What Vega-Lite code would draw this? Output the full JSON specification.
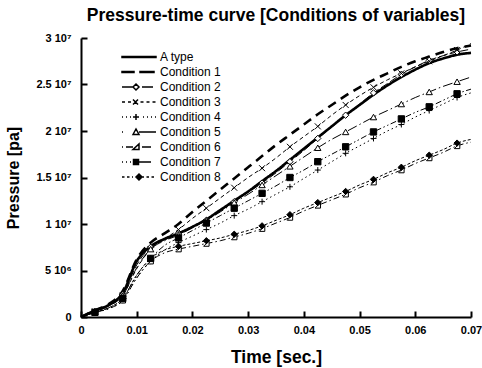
{
"$schema": "https://vega.github.io/schema/vega-lite/v6.json",
"width": 390, "height": 279,
"autosize": "none",
"padding": {"left": 81, "top": 38, "right": 11, "bottom": 51},
"background": "white",
"title": {"text": "Pressure-time curve [Conditions of variables]", "font": "Liberation Sans", "fontSize": 17.5, "fontWeight": "bold", "color": "black", "anchor": "middle", "offset": 8},
"data": {"values": [
{"s":"A type","t":0,"p":0},{"s":"A type","t":0.0025,"p":0.7e6},{"s":"A type","t":0.005,"p":1.3e6},{"s":"A type","t":0.0075,"p":2.6e6},{"s":"A type","t":0.01,"p":6.0e6},{"s":"A type","t":0.0125,"p":7.6e6},{"s":"A type","t":0.015,"p":8.4e6},{"s":"A type","t":0.0175,"p":9.0e6},{"s":"A type","t":0.02,"p":9.7e6},{"s":"A type","t":0.0225,"p":10.5e6},{"s":"A type","t":0.025,"p":11.5e6},{"s":"A type","t":0.0275,"p":12.5e6},{"s":"A type","t":0.03,"p":13.5e6},{"s":"A type","t":0.0325,"p":14.6e6},{"s":"A type","t":0.035,"p":15.7e6},{"s":"A type","t":0.0375,"p":16.9e6},{"s":"A type","t":0.04,"p":18.1e6},{"s":"A type","t":0.0425,"p":19.3e6},{"s":"A type","t":0.045,"p":20.5e6},{"s":"A type","t":0.0475,"p":21.7e6},{"s":"A type","t":0.05,"p":22.8e6},{"s":"A type","t":0.0525,"p":23.9e6},{"s":"A type","t":0.055,"p":24.9e6},{"s":"A type","t":0.0575,"p":25.8e6},{"s":"A type","t":0.06,"p":26.6e6},{"s":"A type","t":0.0625,"p":27.3e6},{"s":"A type","t":0.065,"p":27.8e6},{"s":"A type","t":0.0675,"p":28.2e6},{"s":"A type","t":0.07,"p":28.4e6},
{"s":"Condition 1","t":0,"p":0},{"s":"Condition 1","t":0.0025,"p":0.7e6},{"s":"Condition 1","t":0.005,"p":1.4e6},{"s":"Condition 1","t":0.0075,"p":2.8e6},{"s":"Condition 1","t":0.01,"p":6.2e6},{"s":"Condition 1","t":0.0125,"p":8.0e6},{"s":"Condition 1","t":0.015,"p":9.0e6},{"s":"Condition 1","t":0.0175,"p":10.0e6},{"s":"Condition 1","t":0.02,"p":11.3e6},{"s":"Condition 1","t":0.0225,"p":12.5e6},{"s":"Condition 1","t":0.025,"p":13.7e6},{"s":"Condition 1","t":0.0275,"p":14.9e6},{"s":"Condition 1","t":0.03,"p":16.1e6},{"s":"Condition 1","t":0.0325,"p":17.3e6},{"s":"Condition 1","t":0.035,"p":18.5e6},{"s":"Condition 1","t":0.0375,"p":19.6e6},{"s":"Condition 1","t":0.04,"p":20.7e6},{"s":"Condition 1","t":0.0425,"p":21.8e6},{"s":"Condition 1","t":0.045,"p":22.8e6},{"s":"Condition 1","t":0.0475,"p":23.8e6},{"s":"Condition 1","t":0.05,"p":24.7e6},{"s":"Condition 1","t":0.0525,"p":25.5e6},{"s":"Condition 1","t":0.055,"p":26.2e6},{"s":"Condition 1","t":0.0575,"p":26.9e6},{"s":"Condition 1","t":0.06,"p":27.5e6},{"s":"Condition 1","t":0.0625,"p":28.0e6},{"s":"Condition 1","t":0.065,"p":28.5e6},{"s":"Condition 1","t":0.0675,"p":28.9e6},{"s":"Condition 1","t":0.07,"p":29.2e6},
{"s":"Condition 2","t":0,"p":0},{"s":"Condition 2","t":0.0025,"p":0.6e6},{"s":"Condition 2","t":0.005,"p":1.2e6},{"s":"Condition 2","t":0.0075,"p":2.4e6},{"s":"Condition 2","t":0.01,"p":5.6e6},{"s":"Condition 2","t":0.0125,"p":7.5e6},{"s":"Condition 2","t":0.015,"p":8.3e6},{"s":"Condition 2","t":0.0175,"p":8.9e6},{"s":"Condition 2","t":0.02,"p":9.6e6},{"s":"Condition 2","t":0.0225,"p":10.4e6},{"s":"Condition 2","t":0.025,"p":11.4e6},{"s":"Condition 2","t":0.0275,"p":12.4e6},{"s":"Condition 2","t":0.03,"p":13.4e6},{"s":"Condition 2","t":0.0325,"p":14.4e6},{"s":"Condition 2","t":0.035,"p":15.5e6},{"s":"Condition 2","t":0.0375,"p":16.7e6},{"s":"Condition 2","t":0.04,"p":17.9e6},{"s":"Condition 2","t":0.0425,"p":19.2e6},{"s":"Condition 2","t":0.045,"p":20.4e6},{"s":"Condition 2","t":0.0475,"p":21.7e6},{"s":"Condition 2","t":0.05,"p":22.9e6},{"s":"Condition 2","t":0.0525,"p":24.1e6},{"s":"Condition 2","t":0.055,"p":25.1e6},{"s":"Condition 2","t":0.0575,"p":26.1e6},{"s":"Condition 2","t":0.06,"p":26.9e6},{"s":"Condition 2","t":0.0625,"p":27.6e6},{"s":"Condition 2","t":0.065,"p":28.1e6},{"s":"Condition 2","t":0.0675,"p":28.5e6},{"s":"Condition 2","t":0.07,"p":28.8e6},
{"s":"Condition 3","t":0,"p":0},{"s":"Condition 3","t":0.0025,"p":0.6e6},{"s":"Condition 3","t":0.005,"p":1.2e6},{"s":"Condition 3","t":0.0075,"p":2.3e6},{"s":"Condition 3","t":0.01,"p":5.2e6},{"s":"Condition 3","t":0.0125,"p":7.3e6},{"s":"Condition 3","t":0.015,"p":8.4e6},{"s":"Condition 3","t":0.0175,"p":9.4e6},{"s":"Condition 3","t":0.02,"p":10.6e6},{"s":"Condition 3","t":0.0225,"p":11.7e6},{"s":"Condition 3","t":0.025,"p":12.8e6},{"s":"Condition 3","t":0.0275,"p":13.9e6},{"s":"Condition 3","t":0.03,"p":15.0e6},{"s":"Condition 3","t":0.0325,"p":16.0e6},{"s":"Condition 3","t":0.035,"p":17.1e6},{"s":"Condition 3","t":0.0375,"p":18.3e6},{"s":"Condition 3","t":0.04,"p":19.4e6},{"s":"Condition 3","t":0.0425,"p":20.5e6},{"s":"Condition 3","t":0.045,"p":21.7e6},{"s":"Condition 3","t":0.0475,"p":22.8e6},{"s":"Condition 3","t":0.05,"p":23.8e6},{"s":"Condition 3","t":0.0525,"p":24.7e6},{"s":"Condition 3","t":0.055,"p":25.5e6},{"s":"Condition 3","t":0.0575,"p":26.2e6},{"s":"Condition 3","t":0.06,"p":26.9e6},{"s":"Condition 3","t":0.0625,"p":27.5e6},{"s":"Condition 3","t":0.065,"p":28.1e6},{"s":"Condition 3","t":0.0675,"p":28.7e6},{"s":"Condition 3","t":0.07,"p":29.4e6},
{"s":"Condition 4","t":0,"p":0},{"s":"Condition 4","t":0.0025,"p":0.5e6},{"s":"Condition 4","t":0.005,"p":0.9e6},{"s":"Condition 4","t":0.0075,"p":1.8e6},{"s":"Condition 4","t":0.01,"p":4.2e6},{"s":"Condition 4","t":0.0125,"p":6.0e6},{"s":"Condition 4","t":0.015,"p":7.2e6},{"s":"Condition 4","t":0.0175,"p":8.0e6},{"s":"Condition 4","t":0.02,"p":8.7e6},{"s":"Condition 4","t":0.0225,"p":9.4e6},{"s":"Condition 4","t":0.025,"p":10.1e6},{"s":"Condition 4","t":0.0275,"p":10.9e6},{"s":"Condition 4","t":0.03,"p":11.6e6},{"s":"Condition 4","t":0.0325,"p":12.4e6},{"s":"Condition 4","t":0.035,"p":13.2e6},{"s":"Condition 4","t":0.0375,"p":14.0e6},{"s":"Condition 4","t":0.04,"p":14.9e6},{"s":"Condition 4","t":0.0425,"p":15.8e6},{"s":"Condition 4","t":0.045,"p":16.7e6},{"s":"Condition 4","t":0.0475,"p":17.6e6},{"s":"Condition 4","t":0.05,"p":18.4e6},{"s":"Condition 4","t":0.0525,"p":19.2e6},{"s":"Condition 4","t":0.055,"p":20.0e6},{"s":"Condition 4","t":0.0575,"p":20.7e6},{"s":"Condition 4","t":0.06,"p":21.5e6},{"s":"Condition 4","t":0.0625,"p":22.2e6},{"s":"Condition 4","t":0.065,"p":22.9e6},{"s":"Condition 4","t":0.0675,"p":23.6e6},{"s":"Condition 4","t":0.07,"p":24.1e6},
{"s":"Condition 5","t":0,"p":0},{"s":"Condition 5","t":0.0025,"p":0.6e6},{"s":"Condition 5","t":0.005,"p":1.2e6},{"s":"Condition 5","t":0.0075,"p":2.3e6},{"s":"Condition 5","t":0.01,"p":5.3e6},{"s":"Condition 5","t":0.0125,"p":7.3e6},{"s":"Condition 5","t":0.015,"p":8.2e6},{"s":"Condition 5","t":0.0175,"p":8.8e6},{"s":"Condition 5","t":0.02,"p":9.6e6},{"s":"Condition 5","t":0.0225,"p":10.4e6},{"s":"Condition 5","t":0.025,"p":11.3e6},{"s":"Condition 5","t":0.0275,"p":12.3e6},{"s":"Condition 5","t":0.03,"p":13.2e6},{"s":"Condition 5","t":0.0325,"p":14.2e6},{"s":"Condition 5","t":0.035,"p":15.2e6},{"s":"Condition 5","t":0.0375,"p":16.2e6},{"s":"Condition 5","t":0.04,"p":17.2e6},{"s":"Condition 5","t":0.0425,"p":18.2e6},{"s":"Condition 5","t":0.045,"p":19.1e6},{"s":"Condition 5","t":0.0475,"p":19.9e6},{"s":"Condition 5","t":0.05,"p":20.7e6},{"s":"Condition 5","t":0.0525,"p":21.5e6},{"s":"Condition 5","t":0.055,"p":22.2e6},{"s":"Condition 5","t":0.0575,"p":22.9e6},{"s":"Condition 5","t":0.06,"p":23.6e6},{"s":"Condition 5","t":0.0625,"p":24.2e6},{"s":"Condition 5","t":0.065,"p":24.8e6},{"s":"Condition 5","t":0.0675,"p":25.3e6},{"s":"Condition 5","t":0.07,"p":25.8e6},
{"s":"Condition 6","t":0,"p":0},{"s":"Condition 6","t":0.0025,"p":0.5e6},{"s":"Condition 6","t":0.005,"p":0.9e6},{"s":"Condition 6","t":0.0075,"p":1.8e6},{"s":"Condition 6","t":0.01,"p":4.2e6},{"s":"Condition 6","t":0.0125,"p":6.0e6},{"s":"Condition 6","t":0.015,"p":6.9e6},{"s":"Condition 6","t":0.0175,"p":7.3e6},{"s":"Condition 6","t":0.02,"p":7.6e6},{"s":"Condition 6","t":0.0225,"p":7.9e6},{"s":"Condition 6","t":0.025,"p":8.2e6},{"s":"Condition 6","t":0.0275,"p":8.6e6},{"s":"Condition 6","t":0.03,"p":9.0e6},{"s":"Condition 6","t":0.0325,"p":9.5e6},{"s":"Condition 6","t":0.035,"p":10.1e6},{"s":"Condition 6","t":0.0375,"p":10.7e6},{"s":"Condition 6","t":0.04,"p":11.4e6},{"s":"Condition 6","t":0.0425,"p":12.0e6},{"s":"Condition 6","t":0.045,"p":12.6e6},{"s":"Condition 6","t":0.0475,"p":13.2e6},{"s":"Condition 6","t":0.05,"p":13.9e6},{"s":"Condition 6","t":0.0525,"p":14.5e6},{"s":"Condition 6","t":0.055,"p":15.2e6},{"s":"Condition 6","t":0.0575,"p":15.8e6},{"s":"Condition 6","t":0.06,"p":16.5e6},{"s":"Condition 6","t":0.0625,"p":17.1e6},{"s":"Condition 6","t":0.065,"p":17.7e6},{"s":"Condition 6","t":0.0675,"p":18.4e6},{"s":"Condition 6","t":0.07,"p":18.8e6},
{"s":"Condition 7","t":0,"p":0},{"s":"Condition 7","t":0.0025,"p":0.5e6},{"s":"Condition 7","t":0.005,"p":1.0e6},{"s":"Condition 7","t":0.0075,"p":2.0e6},{"s":"Condition 7","t":0.01,"p":4.5e6},{"s":"Condition 7","t":0.0125,"p":6.3e6},{"s":"Condition 7","t":0.015,"p":7.7e6},{"s":"Condition 7","t":0.0175,"p":8.5e6},{"s":"Condition 7","t":0.02,"p":9.3e6},{"s":"Condition 7","t":0.0225,"p":10.1e6},{"s":"Condition 7","t":0.025,"p":10.9e6},{"s":"Condition 7","t":0.0275,"p":11.7e6},{"s":"Condition 7","t":0.03,"p":12.5e6},{"s":"Condition 7","t":0.0325,"p":13.3e6},{"s":"Condition 7","t":0.035,"p":14.1e6},{"s":"Condition 7","t":0.0375,"p":15.0e6},{"s":"Condition 7","t":0.04,"p":15.8e6},{"s":"Condition 7","t":0.0425,"p":16.7e6},{"s":"Condition 7","t":0.045,"p":17.5e6},{"s":"Condition 7","t":0.0475,"p":18.3e6},{"s":"Condition 7","t":0.05,"p":19.1e6},{"s":"Condition 7","t":0.0525,"p":19.9e6},{"s":"Condition 7","t":0.055,"p":20.6e6},{"s":"Condition 7","t":0.0575,"p":21.3e6},{"s":"Condition 7","t":0.06,"p":22.0e6},{"s":"Condition 7","t":0.0625,"p":22.6e6},{"s":"Condition 7","t":0.065,"p":23.3e6},{"s":"Condition 7","t":0.0675,"p":24.0e6},{"s":"Condition 7","t":0.07,"p":24.5e6},
{"s":"Condition 8","t":0,"p":0},{"s":"Condition 8","t":0.0025,"p":0.5e6},{"s":"Condition 8","t":0.005,"p":1.0e6},{"s":"Condition 8","t":0.0075,"p":2.0e6},{"s":"Condition 8","t":0.01,"p":4.5e6},{"s":"Condition 8","t":0.0125,"p":6.3e6},{"s":"Condition 8","t":0.015,"p":7.2e6},{"s":"Condition 8","t":0.0175,"p":7.6e6},{"s":"Condition 8","t":0.02,"p":7.9e6},{"s":"Condition 8","t":0.0225,"p":8.2e6},{"s":"Condition 8","t":0.025,"p":8.5e6},{"s":"Condition 8","t":0.0275,"p":8.9e6},{"s":"Condition 8","t":0.03,"p":9.3e6},{"s":"Condition 8","t":0.0325,"p":9.8e6},{"s":"Condition 8","t":0.035,"p":10.4e6},{"s":"Condition 8","t":0.0375,"p":11.0e6},{"s":"Condition 8","t":0.04,"p":11.7e6},{"s":"Condition 8","t":0.0425,"p":12.3e6},{"s":"Condition 8","t":0.045,"p":12.9e6},{"s":"Condition 8","t":0.0475,"p":13.5e6},{"s":"Condition 8","t":0.05,"p":14.2e6},{"s":"Condition 8","t":0.0525,"p":14.8e6},{"s":"Condition 8","t":0.055,"p":15.5e6},{"s":"Condition 8","t":0.0575,"p":16.1e6},{"s":"Condition 8","t":0.06,"p":16.8e6},{"s":"Condition 8","t":0.0625,"p":17.4e6},{"s":"Condition 8","t":0.065,"p":18.0e6},{"s":"Condition 8","t":0.0675,"p":18.7e6},{"s":"Condition 8","t":0.07,"p":19.1e6}
]},
"encoding": {
  "x": {"field": "t", "type": "quantitative", "title": "Time [sec.]",
        "scale": {"domain": [0, 0.07], "nice": false, "zero": false},
        "axis": {"values": [0,0.01,0.02,0.03,0.04,0.05,0.06,0.07], "labelExpr": "datum.value == 0 ? '0' : format(datum.value, '.2f')", "labelPadding": 13, "titlePadding": 13, "titleFontSize": 17.5, "labelFlush": false}},
  "y": {"field": "p", "type": "quantitative", "title": "Pressure [pa]",
        "scale": {"domain": [0, 30000000], "nice": false},
        "axis": {"values": [0,5000000,10000000,15000000,20000000,25000000,30000000], "labelExpr": "datum.value == 0 ? '0' : datum.value < 1e7 ? '5 10⁶' : format(datum.value/1e7, '') + ' 10⁷'", "labelPadding": 16, "titlePadding": 14, "titleFontSize": 16}}
},
"layer": [
  {"transform": [{"filter": {"field": "s", "oneOf": ["A type", "Condition 1"]}}],
   "mark": {"type": "line", "color": "black", "strokeWidth": 2.6, "interpolate": "monotone"},
   "encoding": {"strokeDash": {"field": "s", "type": "nominal", "legend": null,
      "scale": {"range": [[1,0],[9,6],[8,3],[4,3],[1.5,3],[10,3,1.5,3],[1.5,3,6,3],[1.5,2.5,1.5,2.5,6,2.5],[3,2]]}}}},
  {"transform": [{"filter": {"not": {"field": "s", "oneOf": ["A type", "Condition 1"]}}}],
   "mark": {"type": "line", "color": "black", "strokeWidth": 1, "interpolate": "monotone"},
   "encoding": {"strokeDash": {"field": "s", "type": "nominal", "legend": null}}},
  {"transform": [{"filter": "round(datum.t*400) % 2 == 1"}],
   "layer": [
     {"transform": [{"filter": {"field": "s", "equal": "Condition 2"}}], "mark": {"type": "point", "shape": "diamond", "filled": true, "fill": "white", "stroke": "black", "strokeWidth": 1, "size": 40, "opacity": 1}},
     {"transform": [{"filter": {"field": "s", "equal": "Condition 3"}}], "mark": {"type": "point", "shape": "M-1,-1L1,1M-1,1L1,-1", "filled": false, "stroke": "black", "strokeWidth": 1, "size": 36, "opacity": 1}},
     {"transform": [{"filter": {"field": "s", "equal": "Condition 4"}}], "mark": {"type": "point", "shape": "M-1,0H1M0,-1V1", "filled": false, "stroke": "black", "strokeWidth": 1, "size": 36, "opacity": 1}},
     {"transform": [{"filter": {"field": "s", "equal": "Condition 5"}}], "mark": {"type": "point", "shape": "triangle-up", "filled": true, "fill": "white", "stroke": "black", "strokeWidth": 1, "size": 40, "opacity": 1}},
     {"transform": [{"filter": {"field": "s", "equal": "Condition 6"}}], "mark": {"type": "point", "shape": "M-1,1H1V-1Z", "filled": true, "fill": "white", "stroke": "black", "strokeWidth": 1, "size": 30, "opacity": 1}},
     {"transform": [{"filter": {"field": "s", "equal": "Condition 7"}}], "mark": {"type": "point", "shape": "square", "filled": true, "fill": "black", "stroke": "black", "strokeWidth": 1, "size": 40, "opacity": 1}},
     {"transform": [{"filter": {"field": "s", "equal": "Condition 8"}}], "mark": {"type": "point", "shape": "diamond", "filled": true, "fill": "black", "stroke": "black", "strokeWidth": 1, "size": 40, "opacity": 1}}
   ]},
  {"transform": [{"filter": {"field": "t", "equal": 0}}],
   "mark": {"type": "point", "filled": false, "color": "black", "strokeWidth": 1, "opacity": 0},
   "encoding": {
     "shape": {"field": "s", "type": "nominal", "title": null,
       "scale": {"domain": ["A type","Condition 1","Condition 2","Condition 3","Condition 4","Condition 5","Condition 6","Condition 7","Condition 8"],
         "range": [
           "M-5.6,-0.12H1.2V0.12H-5.6Z",
           "M-5.6,-0.12H-3.2V0.12H-5.6ZM-2,-0.12H0.8V0.12H-2Z",
           "M-5.6,0H-3.4M-2.8,-0.6L-2.2,0L-2.8,0.6L-3.4,0ZM-1.6,0H0.6",
           "M-5.6,0H-5M-4.4,0H-3.8M-3.4,-0.5L-2.4,0.5M-3.4,0.5L-2.4,-0.5M-1.9,0H-1.3M-0.7,0H-0.1M0.5,0H1.1",
           "M-5.6,0H-5.4M-4.8,0H-4.6M-4,0H-3.8M-2.8,-0.6V0.6M-3.4,0H-2.2M-1.4,0H-1.2M-0.6,0H-0.4M0.2,0H0.4M1,0H1.2",
           "M-5.6,0H-5.4M-3.4,0.5L-2.8,-0.6L-2.2,0.5ZM-2.2,0H1.2",
           "M-5.6,0H-5.4M-4.8,0H-3.4M-3.4,0.5H-2.2V-0.6ZM-1.6,0H0.2",
           "M-5.6,0H-5.4M-4.8,0H-4.6M-4,0H-3.8M-3.3,-0.5H-2.3V0.5H-3.3ZM-2.3,0H0.2",
           "M-5.6,0H-5.1M-4.6,0H-4.1M-3.6,0H-3.4M-2.2,-0.6L-1.6,0L-2.2,0.6L-2.8,0ZM-1.6,0H-1.2M-0.7,0H-0.2M0.3,0H0.8"
         ]},
       "legend": {"orient": "none", "legendX": 63, "legendY": 13, "padding": 0, "symbolSize": 100, "symbolOpacity": 1, "labelFont": "Liberation Sans", "labelFontSize": 12, "labelColor": "black", "rowPadding": 3, "labelLimit": 200}},
     "fill": {"field": "s", "type": "nominal", "title": null,
       "scale": {"domain": ["A type","Condition 1","Condition 2","Condition 3","Condition 4","Condition 5","Condition 6","Condition 7","Condition 8"],
         "range": ["black","black","white","white","white","white","white","black","black"]},
       "legend": {"orient": "none", "legendX": 63, "legendY": 13, "padding": 0, "symbolSize": 100, "symbolOpacity": 1, "labelFont": "Liberation Sans", "labelFontSize": 12, "labelColor": "black", "rowPadding": 3, "labelLimit": 200}}
   }}
],
"config": {
  "view": {"stroke": null},
  "axis": {"grid": false, "domainColor": "black", "domainWidth": 2, "tickColor": "black", "tickWidth": 2, "tickSize": -6, "labelPadding": 10,
           "labelFont": "Liberation Sans", "labelFontWeight": "bold", "labelFontSize": 11, "labelColor": "black",
           "titleFont": "Liberation Sans", "titleFontWeight": "bold", "titleColor": "black"}
}
}
